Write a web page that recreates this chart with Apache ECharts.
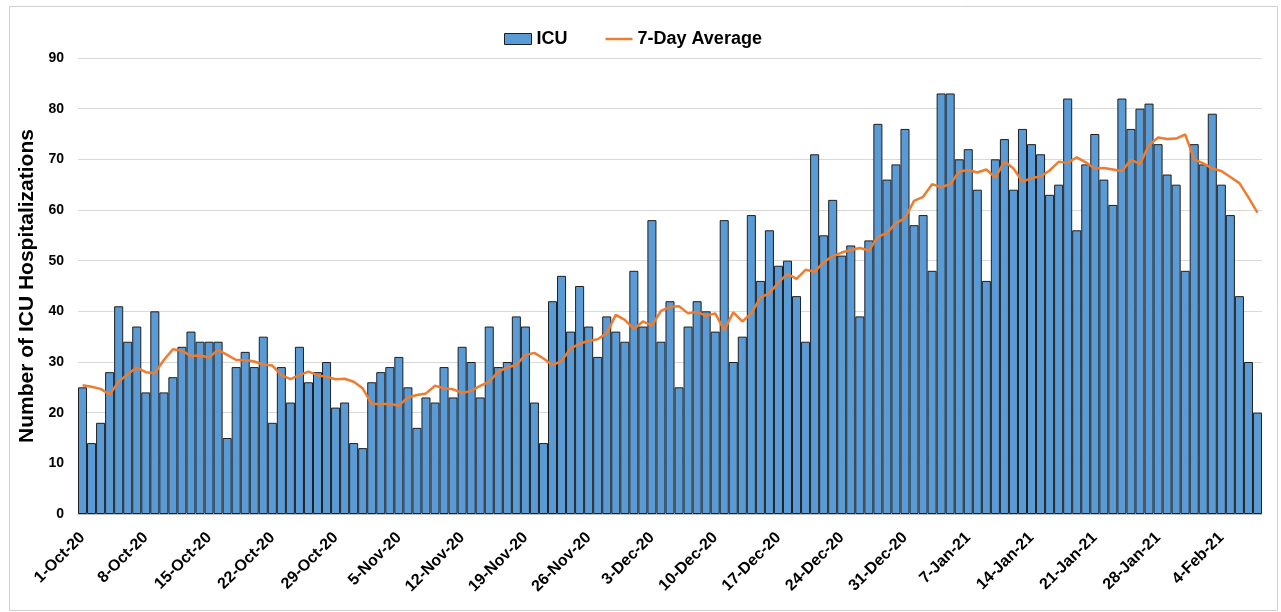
<!DOCTYPE html>
<html>
<head>
<meta charset="utf-8">
<script src="https://cdn.jsdelivr.net/npm/echarts@6/dist/echarts.min.js"></script>
<style>
html,body{margin:0;padding:0;background:#fff;}
#chart{width:1281px;height:612px;}
</style>
</head>
<body>
<div id="chart"></div>
<script>
// ICU daily values, 1-Oct-20 .. 8-Feb-21
const icuOct = [25,14,18,28,41,34,37,24,40,24,27,33,36,34,34,34,15,29,32,29,35,18,29,22,33,26,28,30,21,22,14];
const icuNov = [13,26,28,29,31,25,17,23,22,29,23,33,30,23,37,29,30,39,37,22,14,42,47,36,45,37,31,39,36,34];
const icuDec = [48,37,58,34,42,25,37,42,40,36,58,30,35,59,46,56,49,50,43,34,71,55,62,51,53,39,54,77,66,69,76];
const icuJan = [57,59,48,83,83,70,72,64,46,70,74,64,76,73,71,63,65,82,56,69,75,66,61,82,76,80,81,73,67,65,48];
const icuFeb = [73,69,79,65,59,43,30,20];

// 7-day average
const avgOct = [25.4,25.1,24.7,23.6,26.1,27.6,28.9,28.0,27.8,30.4,32.5,32.2,31.2,31.3,30.9,32.4,31.4,30.4,30.4,30.1,29.5,29.3,27.4,26.6,27.4,28.1,27.4,27.1,26.6,26.7,26.1];
const avgNov = [24.8,21.7,21.7,21.7,21.4,23.0,23.5,23.8,25.3,24.8,24.6,23.9,24.3,25.3,26.1,28.1,28.9,29.4,31.4,31.8,30.7,29.4,30.2,32.7,33.6,34.2,34.5,35.7,39.3,38.3];
const avgDec = [36.5,38.0,37.2,40.1,40.9,41.0,39.6,39.9,39.1,39.6,36.3,39.8,38.0,39.6,42.7,43.6,45.7,47.4,46.4,48.2,47.8,49.7,50.9,51.6,52.1,52.5,52.0,54.7,55.5,57.4,58.4];
const avgJan = [61.8,62.6,65.1,64.5,65.1,67.6,67.9,67.4,68.0,66.4,69.6,68.2,65.6,66.3,66.6,67.8,69.5,69.3,70.4,69.4,68.2,68.3,68.0,67.7,69.9,69.1,72.8,74.3,74.0,74.1,74.9];
const avgFeb = [70.0,69.2,68.2,67.7,66.5,65.3,62.5,59.5];

const yTicks = {min: 0, max: 90, interval: 10};
const monthNames = ['Jan','Feb','Mar','Apr','May','Jun','Jul','Aug','Sep','Oct','Nov','Dec'];

const icu = [].concat(icuOct, icuNov, icuDec, icuJan, icuFeb);
const avg = [].concat(avgOct, avgNov, avgDec, avgJan, avgFeb);

const categories = [];
{
  const d = new Date(Date.UTC(2020, 9, 1));
  for (let i = 0; i < icu.length; i++) {
    categories.push(d.getUTCDate() + '-' + monthNames[d.getUTCMonth()] + '-' + String(d.getUTCFullYear()).slice(2));
    d.setUTCDate(d.getUTCDate() + 1);
  }
}

const FONT = 'Liberation Sans, Arial, sans-serif';
const chart = echarts.init(document.getElementById('chart'), null, {renderer: 'canvas'});
chart.setOption({
  animation: false,
  backgroundColor: '#ffffff',
  graphic: [{
    type: 'rect', left: 7, top: 4, z: -1,
    shape: {width: 1268, height: 604},
    style: {fill: 'none', stroke: '#d0d0d0', lineWidth: 1}
  }],
  legend: {
    top: 25, left: 499,
    itemGap: 38, itemWidth: 27, itemHeight: 11,
    textStyle: {fontFamily: FONT, fontWeight: 'bold', fontSize: 18, color: '#000'},
    data: [
      {name: 'ICU', icon: 'rect', itemStyle: {color: '#5b9bd5', borderColor: '#1f1f1f', borderWidth: 1}},
      {name: '7-Day Average', icon: 'path://M0,0 H27 V2.5 H0 Z', itemStyle: {color: '#ed7d31', borderWidth: 0}}
    ]
  },
  grid: {left: 78, right: 19, top: 58, bottom: 98, containLabel: false},
  xAxis: {
    type: 'category',
    data: categories,
    boundaryGap: true,
    axisLine: {lineStyle: {color: '#bfbfbf', width: 1}},
    axisTick: {show: false},
    axisLabel: {
      interval: 6, rotate: 45, margin: 21,
      fontFamily: FONT, fontWeight: 'bold', fontSize: 16, color: '#000'
    },
    splitLine: {show: false}
  },
  yAxis: {
    type: 'value',
    min: yTicks.min, max: yTicks.max, interval: yTicks.interval,
    name: 'Number of ICU Hospitalizations',
    nameLocation: 'middle', nameGap: 38, nameRotate: 90,
    nameTextStyle: {fontFamily: FONT, fontWeight: 'bold', fontSize: 21, color: '#000'},
    axisLine: {show: false},
    axisTick: {show: false},
    axisLabel: {fontFamily: FONT, fontWeight: 'bold', fontSize: 14, color: '#000', margin: 14},
    splitLine: {lineStyle: {color: '#d9d9d9', width: 1}}
  },
  series: [
    {
      name: 'ICU', type: 'bar', data: icu,
      barCategoryGap: '0%',
      itemStyle: {color: '#5b9bd5', borderColor: '#1f1f1f', borderWidth: 1}
    },
    {
      name: '7-Day Average', type: 'line', data: avg,
      showSymbol: false, symbol: 'none',
      lineStyle: {color: '#ed7d31', width: 2.5},
      itemStyle: {color: '#ed7d31'},
      z: 3
    }
  ]
});
</script>
</body>
</html>
